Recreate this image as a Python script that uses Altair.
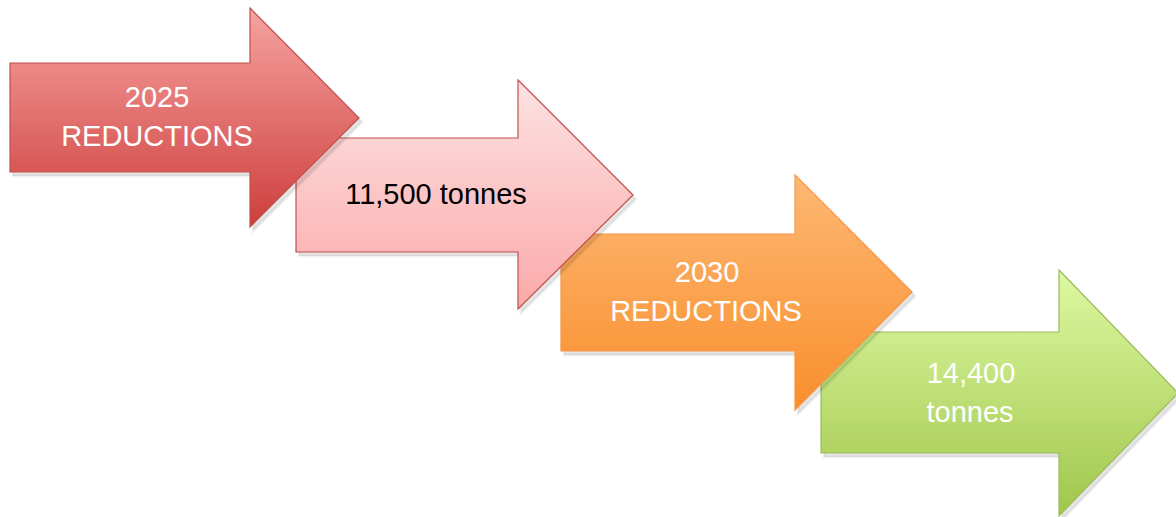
import altair as alt
import pandas as pd

W, H = 1176, 517

# Arrow geometry (diagram units = pixels of the original picture)
arrow_names = ["2025 reductions", "11,500 tonnes", "2030 reductions", "14,400 tonnes"]
body_left = [10, 296, 561, 821]
body_top = [63, 138, 234, 332]
body_bottom = [172, 252, 351, 453]
head_x = [250, 518, 795, 1059]
head_top = [8, 80, 175, 270]
head_bottom = [227, 309, 410, 516]
tip_x = [359, 633, 912, 1178]
tip_y = [118, 195, 292, 393]

grad_top = ["#f6a3a1", "#fde2e2", "#fdb874", "#ddf9a2"]
grad_bottom = ["#cd3e3c", "#fba9a9", "#f98e2c", "#a0c64c"]
stroke_col = ["#c0504d", "#c0504d", "#f79646", "#9bbb59"]

# Labels
label_text = ["2025", "REDUCTIONS", "11,500 tonnes", "2030", "REDUCTIONS", "14,400", "tonnes"]
label_x = [157, 157, 436, 707, 706, 971, 970]
label_base = [107, 146, 204, 282, 321, 383, 422]
label_color = ["white", "white", "black", "white", "white", "white", "white"]

xs = alt.Scale(domain=[0, W], range=[0, W])
ys = alt.Scale(domain=[0, H], range=[0, H])


def arrow_df(i, dx=0, dy=0):
    return pd.DataFrame({
        "x": [body_left[i] + dx, head_x[i] + dx, head_x[i] + dx + 0.01, tip_x[i] + dx],
        "y": [body_top[i] + dy, body_top[i] + dy, head_top[i] + dy, tip_y[i] + dy],
        "y2": [body_bottom[i] + dy, body_bottom[i] + dy, head_bottom[i] + dy, tip_y[i] + dy],
    })


def enc(ch):
    return ch.encode(
        x=alt.X("x:Q", scale=xs, axis=None),
        y=alt.Y("y:Q", scale=ys, axis=None, stack=None),
        y2="y2:Q",
    )


layers = []
for i in [3, 2, 1, 0]:
    shadow = enc(alt.Chart(arrow_df(i, 3, 4)).mark_area(
        fill="#000000", fillOpacity=0.10, stroke="#000000", strokeOpacity=0.05, strokeWidth=3))
    grad = alt.Gradient(
        gradient="linear",
        stops=[alt.GradientStop(color=grad_top[i], offset=0),
               alt.GradientStop(color=grad_bottom[i], offset=1)],
        x1=0, x2=0, y1=0, y2=1,
    )
    body = enc(alt.Chart(arrow_df(i)).mark_area(
        fill=grad, stroke=stroke_col[i], strokeWidth=1.2, fillOpacity=1))
    layers += [shadow, body]

labels = pd.DataFrame({"t": label_text, "x": label_x, "y": label_base, "c": label_color})
text = alt.Chart(labels).mark_text(
    font="Liberation Sans", fontSize=29, align="center", baseline="alphabetic"
).encode(
    x=alt.X("x:Q", scale=xs, axis=None),
    y=alt.Y("y:Q", scale=ys, axis=None),
    text="t:N",
    color=alt.Color("c:N", scale=None, legend=None),
)
layers.append(text)

chart = alt.layer(*layers).properties(
    width=W, height=H, padding=0,
    autosize=alt.AutoSizeParams(type="none"),
    background="white",
).configure_view(stroke=None)

chart.save("out.html", embed_options={"renderer": "svg", "actions": False})
